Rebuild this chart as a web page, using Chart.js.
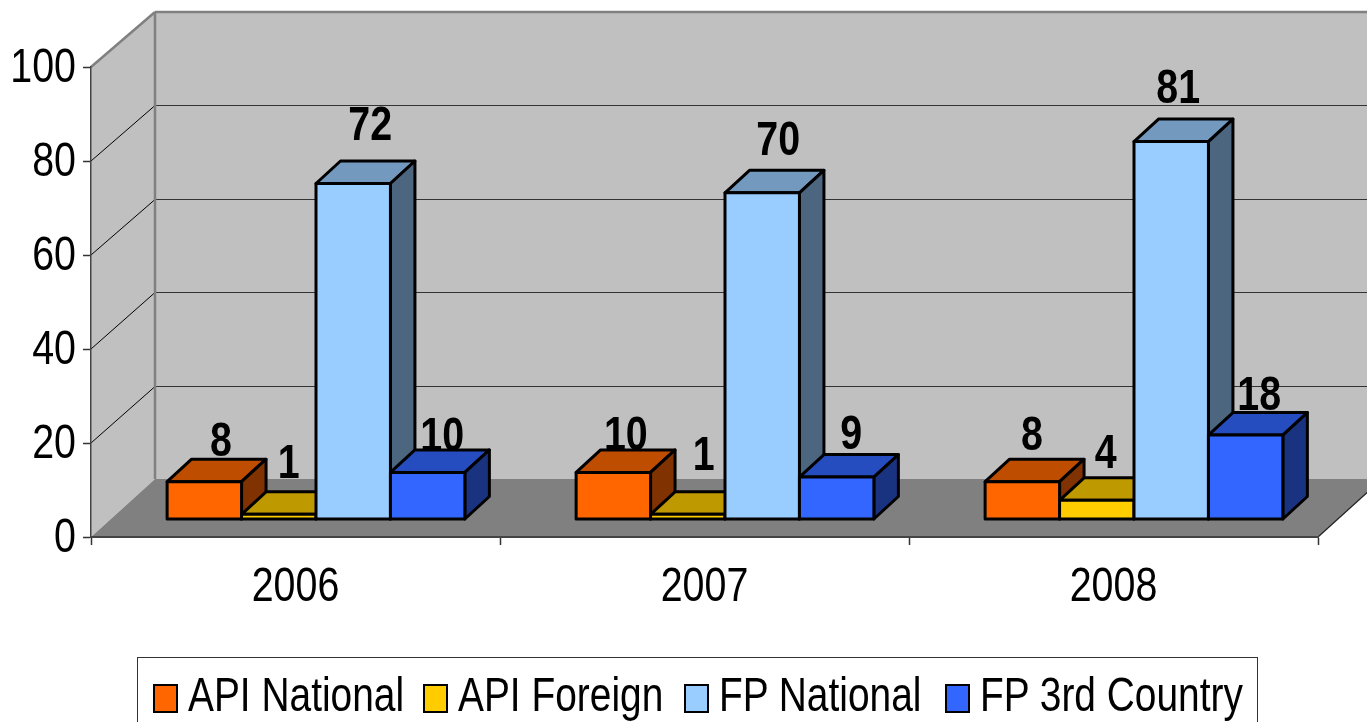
<!DOCTYPE html>
<html>
<head>
<meta charset="utf-8">
<title>3D column chart</title>
<script src="https://cdn.jsdelivr.net/npm/chart.js@4"></script>
<style>
    html, body { margin: 0; padding: 0; background: #fff; overflow: hidden; }
    #wrap { position: relative; width: 1367px; height: 722px; overflow: hidden; }
    #legend {
        position: absolute; left: 137px; top: 657px; width: 1119px; height: 80px;
        border: 1px solid #333; box-sizing: content-box;
        font: 48px 'Liberation Sans', sans-serif; color: #000;
    }
    #legend .item { position: absolute; top: 9px; line-height: 56px; white-space: nowrap; }
    #legend .box {
        position: absolute; left: 0; top: 17px; width: 21px; height: 25px;
        border: 2px solid #000;
    }
    #legend .name { position: absolute; left: 35px; transform: scaleX(0.81); transform-origin: left center; }
</style>
</head>
<body>
<div id="wrap">
    <canvas id="chart" width="1367" height="722"></canvas>
    <div id="legend"></div>
</div>
<script>
// Chart data
const categories = ['2006', '2007', '2008'];
const seriesNames = ['API National', 'API Foreign', 'FP National', 'FP 3rd Country'];
const apiNational = [8, 10, 8];
const apiForeign = [1, 1, 4];
const fpNational = [72, 70, 81];
const fpThirdCountry = [10, 9, 18];
const yTicks = [0, 20, 40, 60, 80, 100];

// Face colours per series: front, top, side
const frontColors = ['#FF6600', '#FFCC00', '#99CCFF', '#3366FF'];
const topColors = ['#BF4D00', '#BF9900', '#7399BF', '#264DBF'];
const sideColors = ['#803300', '#806600', '#4D6680', '#1A3380'];

// Fake 3D geometry, in pixels
const AXIS_LEFT = 91, AXIS_RIGHT = 1318, AXIS_TOP = 67, AXIS_BOTTOM = 537;
const WALL_DX = 64;              // back wall shift from the front plane
const WALL_LIFT = 58, WALL_UNIT = 4.67;
const BAR_DX = 20.5;             // bars stand partway into the floor
const BAR_LIFT = 18, BAR_UNIT = 4.66;
const DEPTH_DX = 24.5, DEPTH_DY = 22.5;
const OUTLINE = 3;
const FONT = "'Liberation Sans', sans-serif";
const TEXT_SQUEEZE = 0.82;       // the original text is horizontally condensed

// Labels were placed by hand in the original, so each has its own nudge [x, up]
const labelNudge = [
    [[16.5, 26], [12.5, 22], [9.5, 32]],
    [[10, 36], [16, 44], [9, 32]],
    [[17, 43.5], [16, 38], [7, 38.5]],
    [[14.5, 21], [14.5, 28], [13.5, 25]]
];

const seriesValues = [apiNational, apiForeign, fpNational, fpThirdCountry];

// Hidden y axes share the pixel range of the visible one but map 0 higher up
function liftedRange(lift, unit) {
    const height = AXIS_BOTTOM - AXIS_TOP;
    return { min: -lift / unit, max: (height - lift) / unit };
}

function polygon(ctx, points, fill, stroke, width) {
    ctx.beginPath();
    points.forEach(function(p, i) {
        if (i === 0) ctx.moveTo(p[0], p[1]); else ctx.lineTo(p[0], p[1]);
    });
    ctx.closePath();
    if (fill) { ctx.fillStyle = fill; ctx.fill(); }
    if (stroke) { ctx.strokeStyle = stroke; ctx.lineWidth = width; ctx.lineJoin = 'round'; ctx.stroke(); }
}

function line(ctx, x1, y1, x2, y2, color, width) {
    ctx.beginPath();
    ctx.moveTo(x1, y1);
    ctx.lineTo(x2, y2);
    ctx.strokeStyle = color;
    ctx.lineWidth = width;
    ctx.stroke();
}

// Side wall, back wall and floor
const wallsPlugin = {
    id: 'walls',
    beforeDraw(chart) {
        const ctx = chart.ctx;
        const y = chart.scales.y, wall = chart.scales.yWall;
        const left = chart.chartArea.left, right = chart.chartArea.right;
        const backLeft = left + WALL_DX, backRight = right + WALL_DX;
        const topFront = y.getPixelForValue(100), botFront = y.getPixelForValue(0);
        const topBack = wall.getPixelForValue(100), botBack = wall.getPixelForValue(0);

        ctx.save();
        polygon(ctx, [[left, topFront], [backLeft, topBack], [backLeft, botBack], [left, botFront]], '#C0C0C0');
        polygon(ctx, [[backLeft, topBack], [backRight, topBack], [backRight, botBack], [backLeft, botBack]], '#C0C0C0');
        polygon(ctx, [[left, botFront], [backLeft, botBack], [backRight, botBack], [right, botFront]], '#808080');

        yTicks.forEach(function(v) {
            if (v === 0 || v === 100) return;
            const yf = y.getPixelForValue(v), yb = Math.round(wall.getPixelForValue(v)) + 0.5;
            line(ctx, left, yf, backLeft, yb, '#000', 1);
            line(ctx, backLeft, yb, backRight, yb, '#333', 1.2);
        });
        line(ctx, left, topFront, backLeft, topBack, '#808080', 2.5);
        line(ctx, backLeft, topBack, backRight, topBack, '#808080', 2.5);
        line(ctx, backLeft, topBack, backLeft, botBack, '#808080', 2.5);
        line(ctx, right, botFront, backRight, botBack, '#222', 1.2);
        ctx.restore();
    }
};

// Draws the columns left to right so each one hides the side of the previous one
const columnsPlugin = {
    id: 'columns',
    beforeDatasetDraw() {
        return false;
    },
    beforeDatasetsDraw(chart) {
        const ctx = chart.ctx;
        ctx.save();
        ctx.translate(BAR_DX, 0);
        seriesValues.forEach(function(values, s) {
            const meta = chart.getDatasetMeta(s);
            meta.data.forEach(function(bar) {
                const l = bar.x - bar.width / 2, r = bar.x + bar.width / 2;
                polygon(ctx, [[l, bar.y], [l + DEPTH_DX, bar.y - DEPTH_DY], [r + DEPTH_DX, bar.y - DEPTH_DY], [r, bar.y]],
                    topColors[s], '#000', OUTLINE);
                polygon(ctx, [[r, bar.y], [r + DEPTH_DX, bar.y - DEPTH_DY], [r + DEPTH_DX, bar.base - DEPTH_DY], [r, bar.base]],
                    sideColors[s], '#000', OUTLINE);
            });
            meta.controller.draw();
            meta.data.forEach(function(bar) {
                const l = bar.x - bar.width / 2, r = bar.x + bar.width / 2;
                polygon(ctx, [[l, bar.y], [r, bar.y], [r, bar.base], [l, bar.base]], null, '#000', OUTLINE);
            });
        });
        ctx.restore();
    },
    afterDatasetsDraw(chart) {
        const ctx = chart.ctx;
        ctx.save();
        ctx.font = 'bold 48px ' + FONT;
        ctx.fillStyle = '#000';
        ctx.textAlign = 'center';
        ctx.textBaseline = 'alphabetic';
        seriesValues.forEach(function(values, s) {
            chart.getDatasetMeta(s).data.forEach(function(bar, c) {
                const nudge = labelNudge[s][c];
                ctx.fillText(String(values[c]), bar.x + BAR_DX + nudge[0], bar.y - nudge[1]);
            });
        });
        ctx.restore();
    }
};

const canvas = document.getElementById('chart');

// Condense all canvas text around its anchor, no narrow font is installed
const canvasCtx = canvas.getContext('2d');
const plainFillText = canvasCtx.fillText.bind(canvasCtx);
canvasCtx.fillText = function(text, x, y) {
    canvasCtx.save();
    canvasCtx.translate(x, y);
    canvasCtx.scale(TEXT_SQUEEZE, 1);
    plainFillText(text, 0, 0);
    canvasCtx.restore();
};

new Chart(canvas, {
    type: 'bar',
    data: {
        labels: categories,
        datasets: seriesValues.map(function(values, s) {
            return {
                label: seriesNames[s],
                data: values,
                backgroundColor: frontColors[s],
                borderWidth: 0,
                yAxisID: 'yBars',
                barPercentage: 1,
                categoryPercentage: 0.728
            };
        })
    },
    plugins: [wallsPlugin, columnsPlugin],
    options: {
        responsive: false,
        animation: false,
        devicePixelRatio: 1,
        layout: { padding: { left: 0, right: 1367 - AXIS_RIGHT, top: AXIS_TOP, bottom: 0 } },
        plugins: { legend: { display: false }, tooltip: { enabled: false } },
        scales: {
            x: {
                afterFit(scale) { scale.height = 722 - AXIS_BOTTOM; },
                grid: { drawOnChartArea: false, tickLength: 8, tickColor: '#333', tickWidth: 1.5 },
                border: { color: '#444', width: 2 },
                ticks: {
                    color: '#000', padding: 14, maxRotation: 0,
                    font: { family: FONT, size: 48 }
                }
            },
            y: {
                min: 0,
                max: 100,
                afterFit(scale) { scale.width = AXIS_LEFT; },
                afterBuildTicks(scale) { scale.ticks = yTicks.map(function(v) { return { value: v }; }); },
                grid: { drawOnChartArea: false, tickLength: 8, tickColor: '#333', tickWidth: 1.5 },
                border: { color: '#444', width: 1.5 },
                ticks: {
                    color: '#000', padding: 7, labelOffset: 2,
                    font: { family: FONT, size: 48 }
                }
            },
            yBars: Object.assign({ display: false, position: 'left' }, liftedRange(BAR_LIFT, BAR_UNIT)),
            yWall: Object.assign({ display: false, position: 'left' }, liftedRange(WALL_LIFT, WALL_UNIT))
        }
    }
});

// Legend is laid out by hand, the built in one forces a wide gap after the swatch
const legendLeft = [15, 285, 546, 807];
const legendEl = document.getElementById('legend');
seriesNames.forEach(function(name, s) {
    const item = document.createElement('div');
    item.className = 'item';
    item.style.left = legendLeft[s] + 'px';
    item.innerHTML = '<span class="box" style="background:' + frontColors[s] + '"></span>' +
        '<span class="name">' + name + '</span>';
    legendEl.appendChild(item);
});
</script>
</body>
</html>
